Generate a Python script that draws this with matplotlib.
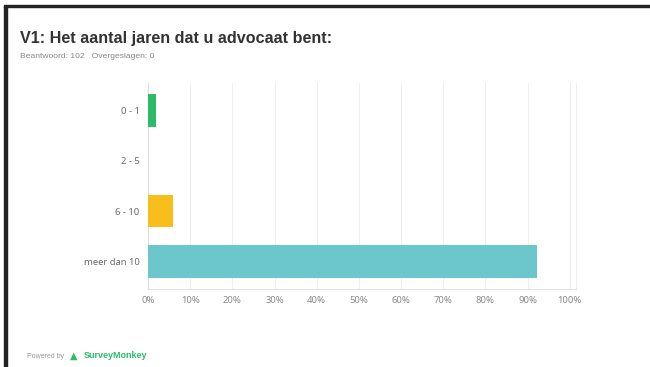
import matplotlib
matplotlib.use("Agg")
import matplotlib.pyplot as plt
import numpy as np
from matplotlib.patches import Rectangle

# answer counts per category (102 respondents)
categories = ['0 - 1', '2 - 5', '6 - 10', 'meer dan 10']
counts = [2, 0, 6, 94]
total = 102
colors = ['#2dba6a', '#e04e4e', '#f7be1c', '#6bc7cb']
xticks = [0, 10, 20, 30, 40, 50, 60, 70, 80, 90, 100]
xticklabels = ['%d%%' % t for t in xticks]

pct = [c / total * 100 for c in counts]

fig = plt.figure(figsize=(6.5, 3.67), dpi=100)
fig.patch.set_facecolor('white')

# dark frame on top and left edge
fig.patches.append(Rectangle((0.006, 0.0), 0.005, 0.985, transform=fig.transFigure,
                             color='#222222', zorder=5))
fig.patches.append(Rectangle((0.006, 0.98), 0.994, 0.007, transform=fig.transFigure,
                             color='#222222', zorder=5))

ax = fig.add_axes([148 / 650, 1 - 289 / 367, 428 / 650, 206 / 367])
y = np.arange(len(categories))
ax.barh(y, pct, height=0.65, color=colors, zorder=3)
ax.set_ylim(len(categories) - 0.5 + 0.05, -0.5 - 0.05)
ax.set_xlim(0, 101.5)

ax.set_xticks(xticks)
ax.set_xticklabels(xticklabels, fontsize=6.8, color='#8a8a8a', family='Noto Sans')
ax.set_yticks(y)
ax.set_yticklabels(categories, fontsize=6.8, color='#6a6a6a', family='Noto Sans')
ax.tick_params(axis='both', length=0)
ax.tick_params(axis='y', pad=6)
ax.tick_params(axis='x', pad=5)
ax.grid(axis='x', color='#eeeeee', linewidth=0.8, zorder=0)
ax.spines['top'].set_visible(False)
ax.spines['left'].set_color('#dddddd')
ax.spines['right'].set_color('#eeeeee')
ax.spines['bottom'].set_color('#e4e4e4')

fig.text(20 / 650, 1 - 38 / 367, 'V1: Het aantal jaren dat u advocaat bent:',
         fontsize=11.6, fontweight='bold', color='#333333', family='Liberation Sans',
         va='center', ha='left')
fig.text(20 / 650, 1 - 56 / 367, 'Beantwoord: 102   Overgeslagen: 0',
         fontsize=6.1, color='#888888', family='Liberation Sans', va='center', ha='left')

fig.text(27 / 650, 1 - 357 / 367, 'Powered by', fontsize=5, color='#999999',
         family='Liberation Sans', va='center', ha='left')
fig.text(84 / 650, 1 - 356 / 367, 'SurveyMonkey', fontsize=6.5, color='#2dba6a',
         fontweight='bold', family='Liberation Sans', va='center', ha='left')
fig.text(70 / 650, 1 - 356 / 367, '\u25b2', fontsize=7, color='#2dba6a',
         family='DejaVu Sans', va='center', ha='left')

plt.savefig('out.png', dpi=100)
